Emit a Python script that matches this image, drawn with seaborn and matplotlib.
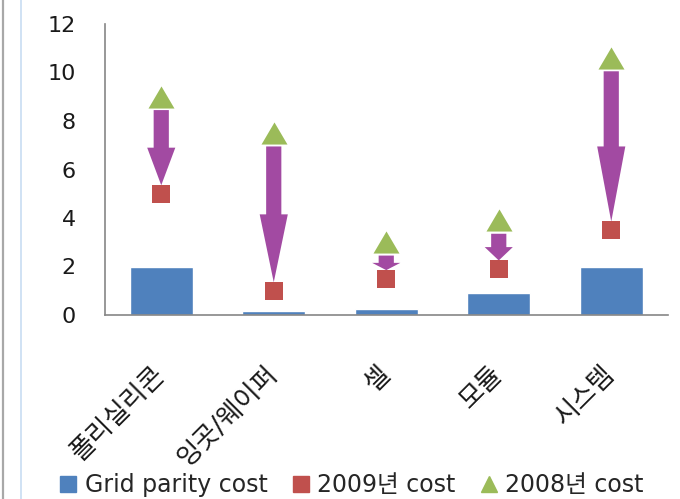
import matplotlib
matplotlib.use("Agg")
import matplotlib.pyplot as plt
from matplotlib.lines import Line2D
from matplotlib.patches import FancyArrow
import seaborn as sns
import pandas as pd

# Cost by stage of the solar value chain
categories = ["폴리실리콘", "잉곳/웨이퍼", "셀", "모듈", "시스템"]
grid_parity_cost = [2.0, 0.15, 0.25, 0.9, 2.0]
cost_2009 = [5.0, 1.0, 1.5, 1.9, 3.5]
cost_2008 = [9.0, 7.5, 3.0, 3.9, 10.6]
y_ticks = [0, 2, 4, 6, 8, 10, 12]
legend_labels = ["Grid parity cost", "2009년 cost", "2008년 cost"]

BLUE = "#4F81BD"
RED = "#C0504D"
GREEN = "#9BBB59"
PURPLE = "#A24AA2"
AXIS_GRAY = "#868686"

df = pd.DataFrame({
    "stage": categories,
    "grid": grid_parity_cost,
    "c2009": cost_2009,
    "c2008": cost_2008,
})

sns.set_theme(style="white")
plt.rcParams["font.family"] = ["DejaVu Sans", "Noto Sans CJK KR"]

fig = plt.figure(figsize=(6.8, 4.99), dpi=100)
ax = fig.add_axes([105 / 680, 1 - 315 / 499, 562.5 / 680, 291 / 499])

sns.barplot(data=df, x="stage", y="grid", color=BLUE, width=0.56,
            saturation=1, ax=ax, zorder=2)

# downward block arrows from the 2008 cost to the 2009 cost
for i, (hi, lo) in enumerate(zip(cost_2008, cost_2009)):
    top = hi - 0.55
    tip = lo + 0.35
    length = top - tip
    arr = FancyArrow(i, top, 0, -length, width=0.135, head_width=0.25,
                     head_length=length * 0.5, length_includes_head=True,
                     color=PURPLE, lw=0, zorder=3)
    ax.add_patch(arr)

tri = [(-1, -0.85), (1, -0.85), (0, 0.85), (-1, -0.85)]
sns.scatterplot(data=df, x="stage", y="c2009", marker="s", s=185,
                color=RED, linewidth=0, ax=ax, zorder=4)
sns.scatterplot(data=df, x="stage", y="c2008", marker=tri, s=350,
                color=GREEN, linewidth=0, ax=ax, zorder=4)

ax.set_xlim(-0.5, len(categories) - 0.5)
ax.set_ylim(0, 12)
ax.set_yticks(y_ticks)
ax.set_yticklabels([str(t) for t in y_ticks], fontsize=16, color="#1a1a1a")
ax.set_xlabel("")
ax.set_ylabel("")
ax.tick_params(axis="y", length=0, pad=21)
ax.tick_params(axis="x", length=0, pad=40)
for lab in ax.get_xticklabels():
    lab.set_rotation(45)
    lab.set_rotation_mode("anchor")
    lab.set_ha("right")
    lab.set_va("center")
    lab.set_fontsize(19)
    lab.set_color("#1a1a1a")

sns.despine(ax=ax)
for side in ("left", "bottom"):
    ax.spines[side].set_color(AXIS_GRAY)
    ax.spines[side].set_linewidth(1.2)

handles = [
    Line2D([], [], marker="s", linestyle="", color=BLUE, markersize=11.5),
    Line2D([], [], marker="s", linestyle="", color=RED, markersize=11.5),
    Line2D([], [], marker="^", linestyle="", color=GREEN, markersize=11.5),
]
fig.legend(handles, legend_labels, loc="center", ncol=3,
           bbox_to_anchor=(352 / 680, 1 - 485 / 499), frameon=False,
           fontsize=17, handlelength=0.7, handletextpad=0.35,
           columnspacing=1.05, borderpad=0)

# window frame edges on the left
fig.add_artist(Line2D([3 / 680, 3 / 680], [0, 1], color="#A8A8A8", lw=1.6))
fig.add_artist(Line2D([21 / 680, 21 / 680], [0, 1], color="#C8DDF2", lw=1.2))

fig.savefig("out.png", dpi=100)
